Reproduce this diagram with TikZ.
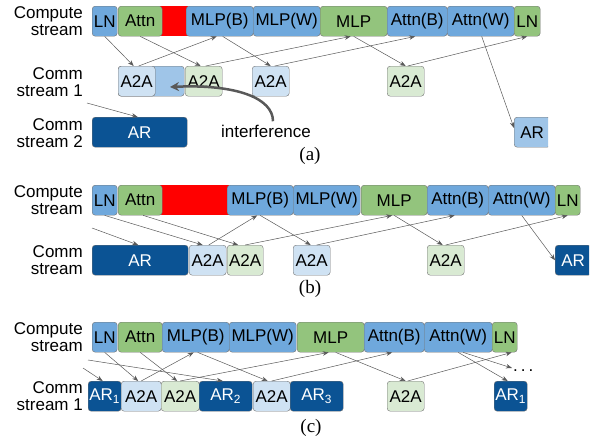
\documentclass[tikz,border=0pt]{standalone}
\usepackage{fontspec}
\setmainfont{Liberation Sans}
\newfontfamily\capfont{Liberation Serif}
\usepackage{tikz}
\usetikzlibrary{arrows.meta}
\definecolor{compblue}{HTML}{6FA8DC}
\definecolor{compgreen}{HTML}{93C47D}
\definecolor{midblue}{HTML}{9FC5E8}
\definecolor{darkblue}{HTML}{0B5394}
\definecolor{paleblue}{HTML}{CFE2F3}
\definecolor{palegreen}{HTML}{D9EAD3}

\begin{document}
\begin{tikzpicture}[x=1pt, y=-1pt,
    blk/.style={draw=black!55, rounded corners=3pt, anchor=north west, minimum height=30pt, inner sep=0pt, font=\fontsize{17}{17}\selectfont},
    comp/.style={blk, fill=compblue},
    compg/.style={blk, fill=compgreen},
    a2ab/.style={blk, fill=paleblue, minimum width=37pt},
    a2ag/.style={blk, fill=palegreen, minimum width=37pt},
    ardk/.style={blk, fill=darkblue, text=white},
    lbl/.style={anchor=east, align=right, inner sep=0pt, font=\fontsize{17}{17}\selectfont},
    flow/.style={-{Stealth[length=6pt,width=4.5pt]}, draw=black!65, line width=0.5pt},
    capt/.style={font=\capfont\fontsize{19}{19}\selectfont}]
    \useasboundingbox (0,0) rectangle (592,439);

    \fill[red] (160,6) rectangle (188,36);
    \node[comp, minimum width=25pt] (lnA) at (92,6) {LN};
    \node[compg, minimum width=44pt] (attnA) at (118,6) {Attn};
    \node[comp, minimum width=67pt] (mlpbA) at (186,6) {MLP(B)};
    \node[comp, minimum width=67pt] (mlpwA) at (253,6) {MLP(W)};
    \node[compg, minimum width=67pt] (mlpA) at (320,6) {MLP};
    \node[comp, minimum width=60pt] (attnbA) at (387,6) {Attn(B)};
    \node[comp, minimum width=67pt] (attnwA) at (447,6) {Attn(W)};
    \node[compg, minimum width=26pt] (lnzA) at (514,6) {LN};
    \node[blk, fill=midblue, minimum width=66pt] (waitA) at (118,66) {};
    \node[a2ab] (q1A) at (118,66) {A2A};
    \node[a2ag] (q2A) at (185,66) {A2A};
    \node[a2ab] (q3A) at (252,66) {A2A};
    \node[a2ag] (q4A) at (387,66) {A2A};
    \begin{scope}
        \clip (500,110) rectangle (548,155);
        \node[blk, fill=midblue, minimum width=36pt] (arzA) at (514,117) {AR};
    \end{scope}
    \node[ardk, minimum width=95pt] (arA) at (92,117) {AR};
    \node[lbl] (compA) at (83,21) {Compute\\stream};
    \node[lbl] (commA) at (83,82) {Comm\\stream 1};
    \node[lbl] (comm2A) at (83,133) {Comm\\stream 2};
    \node[font=\fontsize{17}{17}\selectfont] (intf) at (266,131) {interference};
    \coordinate (itip) at (170,87);
    \draw[line width=2.5pt, draw=black!65, -{Stealth[length=9pt,width=9pt]}] ([xshift=7pt]intf.north) .. controls (273,98) and (236,84) .. (itip);
    \coordinate (inA) at (87,103);
    \draw[flow] (inA) -- ([xshift=-2pt]arA.north);
    \draw[flow] (lnA.south) -- ([xshift=-3pt]q1A.north);
    \draw[flow] (attnA.south) -- ([xshift=-3pt]q2A.north);
    \draw[flow] ([xshift=2pt]q1A.north) -- ([xshift=-3pt]mlpbA.south);
    \draw[flow] ([xshift=3pt]mlpbA.south) -- (q3A.north);
    \draw[flow] ([xshift=2pt]q2A.north) -- ([xshift=-3pt]mlpA.south);
    \draw[flow] ([xshift=4pt]q3A.north) -- ([xshift=-2pt]attnbA.south);
    \draw[flow] (mlpA.south) -- (q4A.north);
    \draw[flow] ([xshift=2pt]q4A.north) -- (lnzA.south);
    \draw[flow] ([xshift=1pt]attnwA.south) -- ([yshift=-11pt]arzA.north west);
    \node[capt] (capA) at (310,156) {(a)};

    \fill[red] (160,185) rectangle (229,215);
    \node[comp, minimum width=25pt] (lnB) at (92,185) {LN};
    \node[compg, minimum width=44pt] (attnB) at (118,185) {Attn};
    \node[comp, minimum width=66pt] (mlpbB) at (227,185) {MLP(B)};
    \node[comp, minimum width=67pt] (mlpwB) at (293,185) {MLP(W)};
    \node[compg, minimum width=66pt] (mlpB) at (361,185) {MLP};
    \node[comp, minimum width=61pt] (attnbB) at (427,185) {Attn(B)};
    \node[comp, minimum width=67pt] (attnwB) at (488,185) {Attn(W)};
    \node[compg, minimum width=25pt] (lnzB) at (555,185) {LN};
    \node[ardk, minimum width=96pt] (arB) at (92,245) {AR};
    \node[a2ab] (q1B) at (189,245) {A2A};
    \node[a2ag, minimum width=36pt] (q2B) at (227,245) {A2A};
    \node[a2ab] (q3B) at (293,245) {A2A};
    \node[a2ag] (q4B) at (427,245) {A2A};
    \begin{scope}
        \clip (540,240) rectangle (589,280);
        \node[ardk, minimum width=36pt] (arzB) at (555,245) {AR};
    \end{scope}
    \node[lbl] (compB) at (83,200) {Compute\\stream};
    \node[lbl] (commB) at (83,260) {Comm\\stream};
    \coordinate (inB) at (92,228);
    \draw[flow] (inB) -- ([xshift=-2pt]arB.north);
    \draw[flow] (lnB.south) -- ([xshift=-5pt]q1B.north);
    \draw[flow] ([xshift=3pt]attnB.south) -- ([xshift=-7pt]q2B.north);
    \draw[flow] ([xshift=1pt]q1B.north) -- ([xshift=-3pt]mlpbB.south);
    \draw[flow] (mlpbB.south) -- ([xshift=-1pt]q3B.north);
    \draw[flow] (q2B.north) -- ([xshift=-2pt]mlpB.south);
    \draw[flow] ([xshift=5pt]q3B.north) -- ([xshift=-3pt]attnbB.south);
    \draw[flow] (mlpB.south) -- ([xshift=-3pt]q4B.north);
    \draw[flow] (q4B.north) -- (lnzB.south);
    \draw[flow] (attnwB.south) -- (arzB.west);
    \node[capt] (capB) at (310,289) {(b)};

    \node[comp, minimum width=25pt] (lnC) at (92,322) {LN};
    \node[compg, minimum width=44pt] (attnC) at (118,322) {Attn};
    \node[comp, minimum width=67pt] (mlpbC) at (162,322) {MLP(B)};
    \node[comp, minimum width=67pt] (mlpwC) at (229,322) {MLP(W)};
    \node[compg, minimum width=67pt] (mlpC) at (297,322) {MLP};
    \node[comp, minimum width=60pt] (attnbC) at (364,322) {Attn(B)};
    \node[comp, minimum width=68pt] (attnwC) at (424,322) {Attn(W)};
    \node[compg, minimum width=25pt] (lnzC) at (492,322) {LN};
    \node[ardk, minimum width=33pt] (ar1C) at (88,381) {AR\textsubscript{1}};
    \node[a2ab, minimum width=40pt] (q1C) at (121,381) {A2A};
    \node[a2ag, minimum width=38pt] (q2C) at (161,381) {A2A};
    \node[ardk, minimum width=53pt] (ar2C) at (199,381) {AR\textsubscript{2}};
    \node[a2ab] (q3C) at (253,381) {A2A};
    \node[ardk, minimum width=53pt] (ar3C) at (290,381) {AR\textsubscript{3}};
    \node[a2ag] (q4C) at (387,381) {A2A};
    \node[ardk, minimum width=33pt] (ar1zC) at (494,381) {AR\textsubscript{1}};
    \node[lbl] (compC) at (83,337) {Compute\\stream};
    \node[lbl] (commC) at (83,396) {Comm\\stream 1};
    \node[anchor=base west, inner sep=1pt, font=\fontsize{17}{17}\selectfont] (more) at (512,371) {.\hspace{3pt}.\hspace{3pt}.};
    \coordinate (inC) at (83,368);
    \coordinate (inCC) at (88,360);
    \draw[flow] (inC) -- ([xshift=-2pt]ar1C.north);
    \draw[flow] (lnC.south) -- ([xshift=-3pt]q1C.north);
    \draw[flow] (attnC.south) -- ([xshift=-3pt]q2C.north);
    \draw[flow] (inCC) -- ([xshift=-3pt]ar2C.north);
    \draw[flow] (q1C.north) -- ([xshift=-2pt]mlpbC.south);
    \draw[flow] ([xshift=2pt]mlpbC.south) -- ([xshift=-4pt]q3C.north);
    \draw[flow] (q2C.north) -- ([xshift=-2pt]mlpC.south);
    \draw[flow] (q3C.north) -- ([xshift=-2pt]attnbC.south);
    \draw[flow] ([xshift=5pt]mlpC.south) -- (q4C.north);
    \draw[flow] ([xshift=2pt]q4C.north) -- ([xshift=7pt]lnzC.south);
    \draw[flow] (attnwC.south) -- ([xshift=-3pt]ar1zC.north);
    \draw[flow] ([xshift=5pt]attnwC.south) -- ([yshift=3pt]more.base west);
    \node[capt] (capC) at (311,428) {(c)};
\end{tikzpicture}
\end{document}
